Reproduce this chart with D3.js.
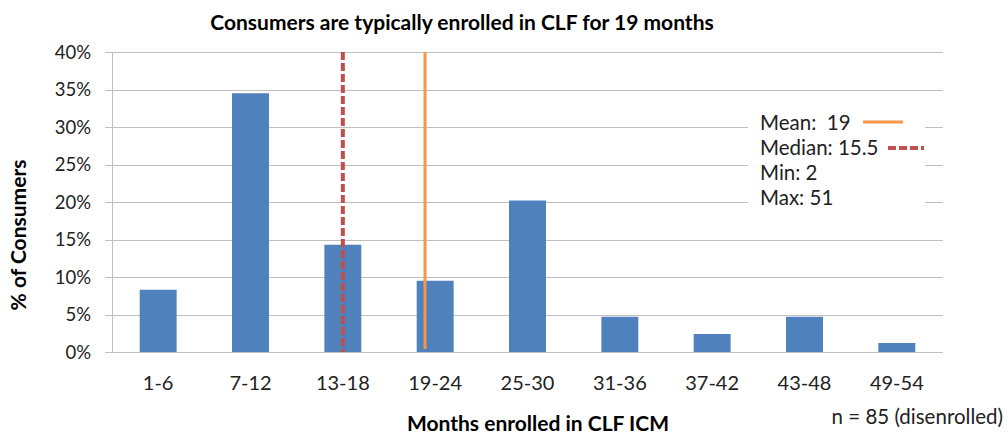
<!DOCTYPE html>
<html>
<head>
<meta charset="utf-8">
<script src="https://cdn.jsdelivr.net/npm/d3@7"></script>
<style>
  body { margin: 0; background: #fff; }
  svg { font-family: Lato, "Open Sans", sans-serif; }
</style>
</head>
<body>
<div id="chart"></div>
<script>
// Data
const categories = ['1-6', '7-12', '13-18', '19-24', '25-30', '31-36', '37-42', '43-48', '49-54'];
const percents = [8.3, 34.5, 14.3, 9.5, 20.2, 4.7, 2.4, 4.7, 1.2];
const yTicks = [0, 5, 10, 15, 20, 25, 30, 35, 40];
// reference lines, position given on the category axis (0 = first bin centre)
const refLines = [
    { name: 'Mean', value: '19', at: 2.89, color: '#f79646', dash: null, width: 3 },
    { name: 'Median', value: '15.5', at: 2.0, color: '#c0504d', dash: '8,3', width: 4 }
];
const stats = ['Min: 2', 'Max: 51'];

const width = 1008, height = 435;
const margin = { top: 52, right: 65, bottom: 83, left: 112 };

const svg = d3.select('#chart')
    .append('svg')
    .attr('width', width)
    .attr('height', height);

const x = d3.scaleBand()
    .domain(categories)
    .range([margin.left, width - margin.right])
    .paddingInner(0.6)
    .paddingOuter(0.3);

const y = d3.scaleLinear()
    .domain([0, 40])
    .range([height - margin.bottom, margin.top]);

// continuous position along the category axis
const xc = d3.scaleLinear()
    .domain([0, categories.length - 1])
    .range([x(categories[0]) + x.bandwidth() / 2, x(categories[categories.length - 1]) + x.bandwidth() / 2]);

// Gridlines + y axis
svg.append('g')
    .selectAll('line')
    .data(yTicks)
    .enter().append('line')
    .attr('x1', margin.left - 7)
    .attr('x2', width - margin.right)
    .attr('y1', d => Math.round(y(d)) + 0.5)
    .attr('y2', d => Math.round(y(d)) + 0.5)
    .attr('stroke', '#bfbfbf')
    .attr('stroke-width', 1);

svg.append('line')
    .attr('x1', margin.left + 0.5)
    .attr('x2', margin.left + 0.5)
    .attr('y1', y(40))
    .attr('y2', y(0))
    .attr('stroke', '#bfbfbf');

svg.append('g')
    .selectAll('text')
    .data(yTicks)
    .enter().append('text')
    .attr('x', 91)
    .attr('y', d => y(d) + 6.5)
    .attr('text-anchor', 'end')
    .attr('font-size', 18.5)
    .attr('fill', '#222')
    .text(d => d + '%');

// Legend box covering gridlines
svg.append('rect')
    .attr('x', 748)
    .attr('y', 108)
    .attr('width', 177)
    .attr('height', 110)
    .attr('fill', '#fff');

// Bars
svg.append('g')
    .selectAll('rect')
    .data(percents)
    .enter().append('rect')
    .attr('x', (d, i) => x(categories[i]))
    .attr('y', d => y(d))
    .attr('width', x.bandwidth())
    .attr('height', d => y(0) - y(d))
    .attr('fill', '#4f81bd');

// Mean / median lines
svg.append('g')
    .selectAll('line')
    .data(refLines)
    .enter().append('line')
    .attr('x1', d => xc(d.at))
    .attr('x2', d => xc(d.at))
    .attr('y1', y(40))
    .attr('y2', d => d.dash ? y(0) : y(0) - 3)
    .attr('stroke', d => d.color)
    .attr('stroke-width', d => d.width)
    .attr('stroke-dasharray', d => d.dash);

// x labels
svg.append('g')
    .selectAll('text')
    .data(categories)
    .enter().append('text')
    .attr('x', d => x(d) + x.bandwidth() / 2)
    .attr('y', 390)
    .attr('text-anchor', 'middle')
    .attr('font-size', 20)
    .attr('fill', '#222')
    .text(d => d);

// Legend
const legend = svg.append('g');
const legendRows = refLines.map(d => d.name + ':' + (d.name === 'Mean' ? '\u00a0\u00a0' : ' ') + d.value).concat(stats);
legend.selectAll('text')
    .data(legendRows)
    .enter().append('text')
    .attr('x', 760)
    .attr('y', (d, i) => 130 + i * 25)
    .attr('font-size', 20.5)
    .attr('fill', '#222')
    .text(d => d);

legend.selectAll('line')
    .data(refLines)
    .enter().append('line')
    .attr('x1', (d, i) => i === 0 ? 863 : 888)
    .attr('x2', (d, i) => i === 0 ? 903 : 924)
    .attr('y1', (d, i) => 122 + i * 26)
    .attr('y2', (d, i) => 122 + i * 26)
    .attr('stroke', d => d.color)
    .attr('stroke-width', d => d.width)
    .attr('stroke-dasharray', d => d.dash);

// Titles
svg.append('text')
    .attr('x', 462)
    .attr('y', 30)
    .attr('text-anchor', 'middle')
    .attr('font-size', 21)
    .attr('font-weight', 'bold')
    .attr('fill', '#000')
    .text('Consumers are typically enrolled in CLF for 19 months');

svg.append('text')
    .attr('transform', 'translate(26,235) rotate(-90)')
    .attr('text-anchor', 'middle')
    .attr('font-size', 21)
    .attr('font-weight', 'bold')
    .attr('fill', '#000')
    .text('% of Consumers');

svg.append('text')
    .attr('x', 538)
    .attr('y', 431)
    .attr('text-anchor', 'middle')
    .attr('font-size', 21)
    .attr('font-weight', 'bold')
    .attr('fill', '#000')
    .text('Months enrolled in CLF ICM');

svg.append('text')
    .attr('x', 1003)
    .attr('y', 424)
    .attr('text-anchor', 'end')
    .attr('font-size', 20.5)
    .attr('fill', '#222')
    .text('n = 85 (disenrolled)');
</script>
</body>
</html>
